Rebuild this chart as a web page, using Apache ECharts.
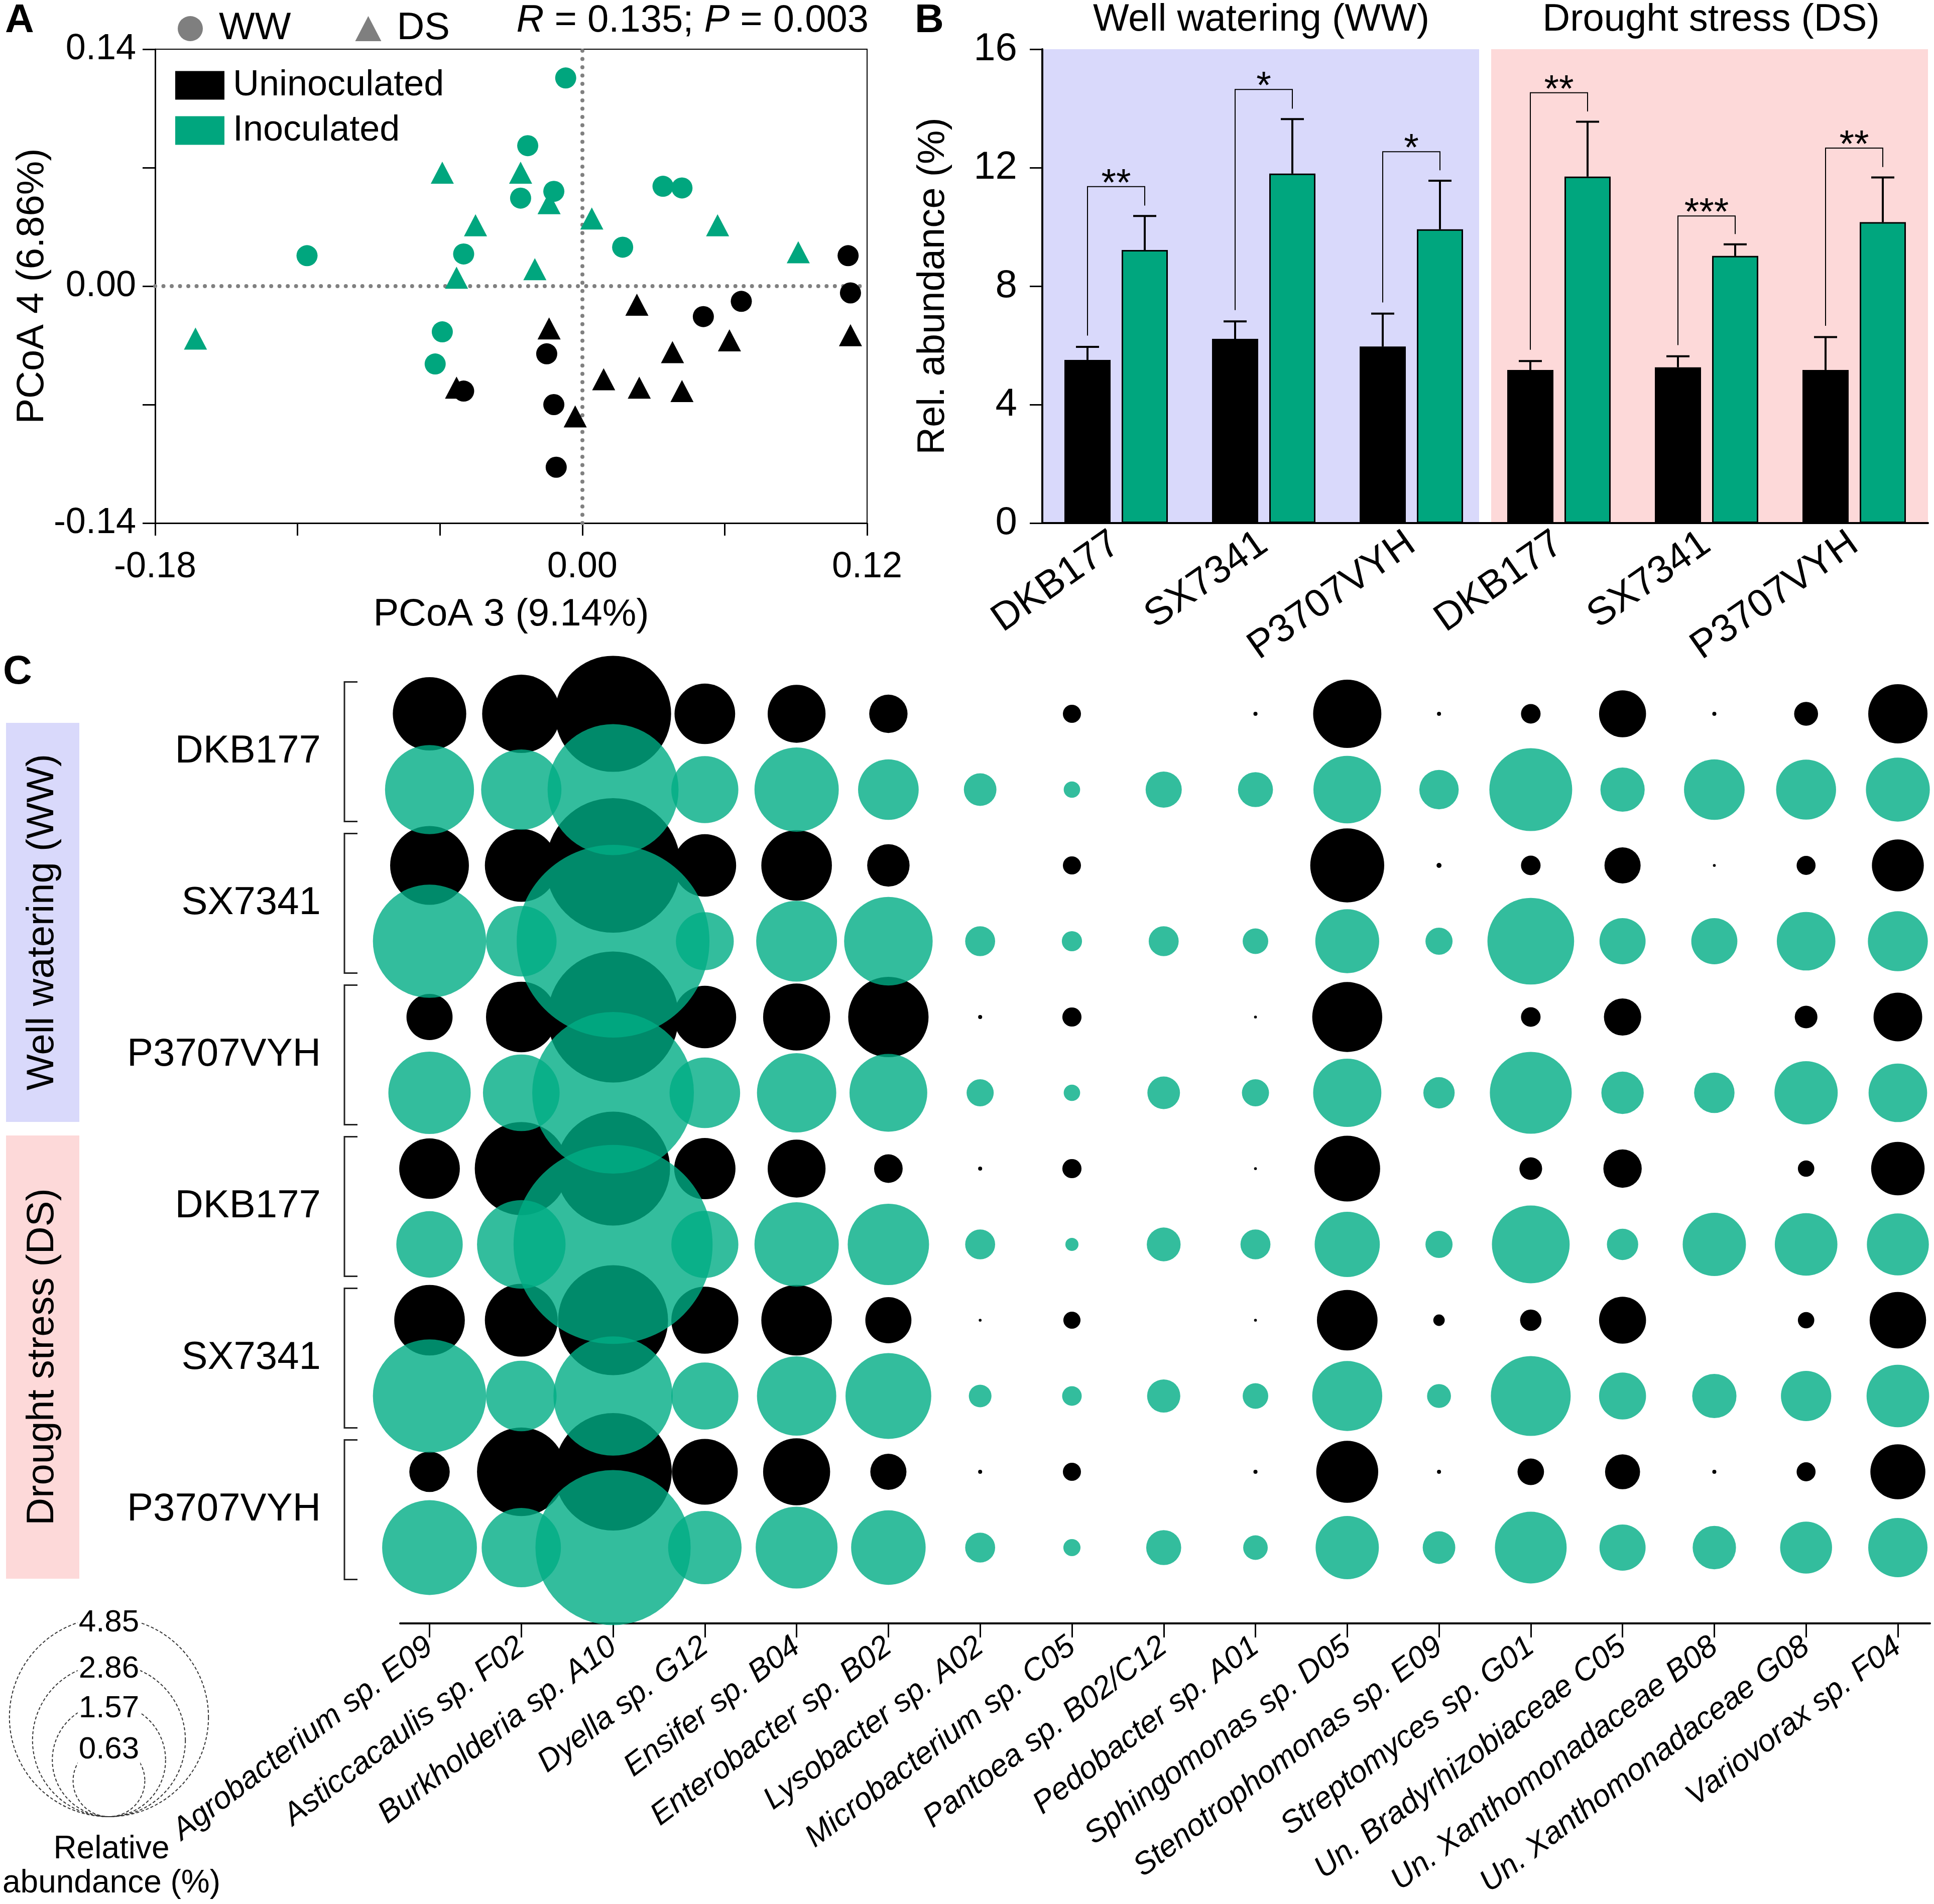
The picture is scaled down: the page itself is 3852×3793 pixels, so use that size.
<!DOCTYPE html>
<html>
<head>
<meta charset="utf-8">
<title>PCoA, relative abundance and bubble plot</title>
<script src="https://cdn.jsdelivr.net/npm/echarts@6/dist/echarts.min.js"></script>
<style>
  html, body { margin: 0; padding: 0; background: #fff; }
  #main { width: 3852px; height: 3793px; }
</style>
</head>
<body>
<div id="main"></div>
<script>
// ---------- Panel A: PCoA scores [PCoA 3, PCoA 4] ----------
var uninocWW = [[0.112, 0.018], [0.113, -0.004], [0.067, -0.009], [0.051, -0.018],
  [-0.015, -0.040], [-0.050, -0.062], [-0.012, -0.070], [-0.011, -0.107]];
var uninocDS = [[0.023, -0.011], [-0.014, -0.025], [0.062, -0.032], [0.038, -0.039],
  [0.113, -0.029], [0.009, -0.055], [0.024, -0.060], [0.042, -0.062], [-0.053, -0.060], [-0.003, -0.077]];
var inocWW = [[-0.007, 0.123], [-0.023, 0.083], [-0.026, 0.052], [-0.012, 0.056], [0.034, 0.059],
  [0.042, 0.058], [0.017, 0.023], [-0.116, 0.018], [-0.050, 0.019], [-0.059, -0.027], [-0.062, -0.046]];
var inocDS = [[-0.059, 0.067], [-0.026, 0.067], [-0.014, 0.049], [-0.045, 0.036], [0.004, 0.040],
  [0.057, 0.036], [0.091, 0.020], [-0.020, 0.010], [-0.053, 0.005], [-0.163, -0.031]];
var pcoaLabels = ['-0.18', '0.00', '0.12', '-0.14', '0.14'];

// ---------- Panel B: relative abundance (%) ----------
var cultivarKeys = ['WW-DKB177', 'WW-SX7341', 'WW-P3707VYH', 'DS-DKB177', 'DS-SX7341', 'DS-P3707VYH'];
var uninocMean = [5.51, 6.22, 5.96, 5.17, 5.26, 5.17];
var uninocErr = [0.44, 0.59, 1.11, 0.30, 0.37, 1.11];
var inocMean = [9.22, 11.80, 9.92, 11.70, 9.02, 10.16];
var inocErr = [1.15, 1.84, 1.64, 1.85, 0.39, 1.51];
var sigLevel = [11.36, 14.64, 12.54, 14.53, 10.37, 12.66];
var sigStars = ['**', '*', '*', '**', '***', '**'];
var regimeSpans = [[0, 2], [3, 5]];

// ---------- Panel C: bubble plot, relative abundance (%) ----------
var species = ['Agrobacterium sp. E09', 'Asticcacaulis sp. F02', 'Burkholderia sp. A10', 'Dyella sp. G12',
  'Ensifer sp. B04', 'Enterobacter sp. B02', 'Lysobacter sp. A02', 'Microbacterium sp. C05',
  'Pantoea sp. B02/C12', 'Pedobacter sp. A01', 'Sphingomonas sp. D05', 'Stenotrophomonas sp. E09',
  'Streptomyces sp. G01', 'Un. Bradyrhizobiaceae C05', 'Un. Xanthomonadaceae B08',
  'Un. Xanthomonadaceae G08', 'Variovorax sp. F04'];
var cultivars = ['DKB177', 'SX7341', 'P3707VYH', 'DKB177', 'SX7341', 'P3707VYH'];

var wwDKB177Un = [0.66, 0.75, 1.65, 0.45, 0.41, 0.18, 0, 0.04, 0, 0.002, 0.57, 0.002, 0.047, 0.27, 0.002, 0.07, 0.43];
var wwDKB177In = [0.97, 0.79, 2.10, 0.55, 0.87, 0.45, 0.13, 0.033, 0.16, 0.15, 0.56, 0.19, 0.84, 0.24, 0.45, 0.44, 0.50];
var wwSX7341Un = [0.76, 0.65, 2.22, 0.48, 0.61, 0.22, 0, 0.04, 0, 0, 0.67, 0.003, 0.047, 0.16, 0.001, 0.044, 0.33];
var wwSX7341In = [1.57, 0.61, 4.55, 0.41, 0.80, 0.96, 0.11, 0.05, 0.11, 0.08, 0.50, 0.09, 0.92, 0.26, 0.26, 0.42, 0.44];
var wwP3707Un = [0.26, 0.61, 2.10, 0.48, 0.55, 0.79, 0.002, 0.045, 0, 0.001, 0.60, 0, 0.047, 0.17, 0, 0.063, 0.29];
var wwP3707In = [0.83, 0.72, 3.20, 0.61, 0.77, 0.74, 0.09, 0.033, 0.13, 0.09, 0.57, 0.12, 0.82, 0.22, 0.20, 0.49, 0.42];
var dsDKB177Un = [0.45, 1.06, 1.59, 0.46, 0.41, 0.10, 0.002, 0.045, 0, 0.001, 0.53, 0, 0.063, 0.18, 0, 0.033, 0.35];
var dsDKB177In = [0.54, 0.96, 4.85, 0.55, 0.87, 0.81, 0.11, 0.021, 0.14, 0.11, 0.52, 0.09, 0.74, 0.12, 0.49, 0.48, 0.47];
var dsSX7341Un = [0.61, 0.65, 1.48, 0.55, 0.61, 0.26, 0.001, 0.036, 0, 0.001, 0.45, 0.016, 0.056, 0.27, 0, 0.033, 0.39];
var dsSX7341In = [1.57, 0.61, 1.74, 0.55, 0.77, 0.90, 0.063, 0.047, 0.135, 0.08, 0.60, 0.07, 0.78, 0.27, 0.24, 0.31, 0.48];
var dsP3707Un = [0.20, 0.96, 1.69, 0.53, 0.55, 0.16, 0.002, 0.04, 0, 0.002, 0.47, 0.002, 0.086, 0.15, 0.002, 0.044, 0.37];
var dsP3707In = [1.10, 0.77, 2.95, 0.66, 0.82, 0.68, 0.11, 0.036, 0.15, 0.074, 0.49, 0.13, 0.63, 0.26, 0.23, 0.33, 0.43];
var sizeLegend = [4.85, 2.86, 1.57, 0.63];

var uninocRows = [wwDKB177Un, wwSX7341Un, wwP3707Un, dsDKB177Un, dsSX7341Un, dsP3707Un];
var inocRows = [wwDKB177In, wwSX7341In, wwP3707In, dsDKB177In, dsSX7341In, dsP3707In];

// ---------- styling ----------
var FONT = 'Liberation Sans, Arial, sans-serif';
var GREEN = '#00a67e';
var BUBBLE_GREEN = '#00ac85';
var BAR_W = 92, BAR_GAP = 22;
var BAR_OFF = (BAR_W + BAR_GAP) / 2;
var C_XMIN = -0.32;

function sizeOf(v) { return 180 * Math.sqrt(v); }

function bubbleData(rows, offset) {
  var out = [];
  rows.forEach(function (row, g) {
    row.forEach(function (v, j) {
      if (v > 0) out.push([j, 2 * g + offset, v]);
    });
  });
  return out;
}

function pcoaFmt(v) {
  var s = Math.abs(v) < 1e-9 ? '0.00' : v.toFixed(2);
  return pcoaLabels.indexOf(s) >= 0 ? s : '';
}

var myChart = echarts.init(document.getElementById('main'));
window.addEventListener('resize', function () {
  myChart.resize();
});

myChart.setOption({
  animation: false,
  backgroundColor: '#fff',
  textStyle: { fontFamily: FONT, color: '#000' },
  grid: [
    { left: 309, top: 98, width: 1418, height: 944, show: true, borderColor: '#000', borderWidth: 2 },
    { left: 2076, top: 98, width: 1764, height: 944 },
    { left: 797, top: 1271, width: 3047, height: 1963 },
    { left: 0, top: 3150, width: 434, height: 469 }
  ],
  xAxis: [
    {
      gridIndex: 0, type: 'value', min: -0.18, max: 0.12, interval: 0.06,
      name: 'PCoA 3 (9.14%)', nameLocation: 'middle', nameGap: 145,
      nameTextStyle: { fontSize: 76, color: '#000' },
      axisLine: { onZero: false, lineStyle: { color: '#000', width: 3 } },
      axisTick: { length: 25, lineStyle: { color: '#000', width: 3 } },
      axisLabel: { fontSize: 72, color: '#000', margin: 52, formatter: pcoaFmt },
      splitLine: { show: false }
    },
    {
      gridIndex: 1, type: 'category', data: cultivarKeys,
      axisLine: { onZero: false, lineStyle: { color: '#000', width: 4 } },
      axisTick: { show: false },
      axisLabel: {
        fontSize: 78, color: '#000', rotate: 35, margin: 34, interval: 0,
        formatter: function (v) { return v.split('-')[1]; }
      }
    },
    {
      gridIndex: 2, type: 'value', min: C_XMIN, max: 16.35,
      axisLine: { onZero: false, lineStyle: { color: '#000', width: 4 } },
      axisTick: {
        customValues: species.map(function (s, i) { return i; }),
        length: 28, lineStyle: { color: '#000', width: 3 }
      },
      axisLabel: {
        customValues: species.map(function (s, i) { return i; }),
        fontSize: 62, fontStyle: 'italic', color: '#000', rotate: 37, margin: 40,
        formatter: function (v) { return species[Math.round(v)]; }
      },
      splitLine: { show: false }
    },
    { gridIndex: 3, type: 'value', min: 0, max: 1, show: false }
  ],
  yAxis: [
    {
      gridIndex: 0, type: 'value', min: -0.14, max: 0.14, interval: 0.07,
      name: 'PCoA 4 (6.86%)', nameLocation: 'middle', nameGap: 196,
      nameTextStyle: { fontSize: 76, color: '#000' },
      axisLine: { show: true, onZero: false, lineStyle: { color: '#000', width: 3 } },
      axisTick: { show: true, length: 25, lineStyle: { color: '#000', width: 3 } },
      axisLabel: { fontSize: 72, color: '#000', margin: 38, formatter: pcoaFmt },
      splitLine: { show: false }
    },
    {
      gridIndex: 1, type: 'value', min: 0, max: 16, interval: 4,
      name: 'Rel. abundance (%)', nameLocation: 'middle', nameGap: 179,
      nameTextStyle: { fontSize: 76, color: '#000' },
      axisLine: { show: true, onZero: false, lineStyle: { color: '#000', width: 4 } },
      axisTick: { show: true, length: 25, lineStyle: { color: '#000', width: 3 } },
      axisLabel: { fontSize: 78, color: '#000', margin: 50 },
      splitLine: { show: false }
    },
    {
      gridIndex: 2, type: 'value', min: -1, max: 12, inverse: true,
      axisLine: { show: false, onZero: false }, axisTick: { show: false }, splitLine: { show: false },
      axisLabel: {
        customValues: cultivars.map(function (c, g) { return 2 * g + 0.5; }),
        fontSize: 78, color: '#000', margin: 158,
        formatter: function (v) { return cultivars[Math.round((v - 0.5) / 2)]; }
      }
    },
    { gridIndex: 3, type: 'value', min: 0, max: 1, show: false }
  ],
  legend: [
    {
      selectedMode: false, left: 349, top: 14, itemWidth: 52, itemHeight: 50, itemGap: 128,
      data: [{ name: 'WW', icon: 'circle' }, { name: 'DS', icon: 'triangle' }],
      textStyle: { fontSize: 76, color: '#000', lineHeight: 50, padding: [0, 0, 0, 26] }
    },
    {
      selectedMode: false, orient: 'vertical', left: 344, top: 129, itemWidth: 98, itemHeight: 57, itemGap: 18,
      data: [{ name: 'Uninoculated', icon: 'rect' }, { name: 'Inoculated', icon: 'rect' }],
      textStyle: { fontSize: 72, color: '#000', lineHeight: 57, padding: [0, 0, 0, 12] }
    }
  ],
  graphic: [
    { type: 'text', left: 10, top: 2, style: { text: 'A', font: 'bold 80px ' + FONT, fill: '#000' } },
    { type: 'text', left: 1822, top: 2, style: { text: 'B', font: 'bold 80px ' + FONT, fill: '#000' } },
    { type: 'text', left: 6, top: 1300, style: { text: 'C', font: 'bold 80px ' + FONT, fill: '#000' } },
    {
      type: 'text', x: 1730, y: 42,
      style: {
        text: '{i|R} = 0.135; {i|P} = 0.003', font: '76px ' + FONT, fill: '#000',
        align: 'right', verticalAlign: 'middle',
        rich: { i: { fontStyle: 'italic', fontSize: 76, fontFamily: FONT } }
      }
    },
    { type: 'text', x: 2512, y: 40, style: { text: 'Well watering (WW)', font: '76px ' + FONT, fill: '#000', align: 'center', verticalAlign: 'middle' } },
    { type: 'text', x: 3408, y: 40, style: { text: 'Drought stress (DS)', font: '76px ' + FONT, fill: '#000', align: 'center', verticalAlign: 'middle' } },
    { type: 'rect', shape: { x: 12, y: 1440, width: 146, height: 795 }, style: { fill: '#d9d9fb' } },
    { type: 'text', x: 85, y: 1837, rotation: Math.PI / 2, style: { text: 'Well watering (WW)', font: '76px ' + FONT, fill: '#000', align: 'center', verticalAlign: 'middle' } },
    { type: 'rect', shape: { x: 12, y: 2262, width: 146, height: 883 }, style: { fill: '#fdd9d9' } },
    { type: 'text', x: 85, y: 2703, rotation: Math.PI / 2, style: { text: 'Drought stress (DS)', font: '76px ' + FONT, fill: '#000', align: 'center', verticalAlign: 'middle' } },
    { type: 'text', x: 222, y: 3718, style: { text: 'Relative\nabundance (%)', font: '64px ' + FONT, lineHeight: 68, fill: '#000', align: 'center', verticalAlign: 'middle' } }
  ],
  series: [
    // ----- Panel A -----
    {
      name: 'Uninoculated WW', type: 'scatter', xAxisIndex: 0, yAxisIndex: 0, z: 3,
      data: uninocWW, symbol: 'circle', symbolSize: 42, itemStyle: { color: '#000', opacity: 1 },
      markLine: {
        silent: true, symbol: 'none', label: { show: false }, z: 1,
        lineStyle: { color: '#808080', width: 8, type: [0.01, 16.5], cap: 'round', opacity: 1 },
        data: [{ xAxis: 0 }, { yAxis: 0 }]
      }
    },
    { name: 'Uninoculated DS', type: 'scatter', xAxisIndex: 0, yAxisIndex: 0, z: 3, data: uninocDS, symbol: 'triangle', symbolSize: [46, 44], itemStyle: { color: '#000', opacity: 1 } },
    { name: 'Inoculated WW', type: 'scatter', xAxisIndex: 0, yAxisIndex: 0, z: 3, data: inocWW, symbol: 'circle', symbolSize: 42, itemStyle: { color: GREEN, opacity: 1 } },
    { name: 'Inoculated DS', type: 'scatter', xAxisIndex: 0, yAxisIndex: 0, z: 3, data: inocDS, symbol: 'triangle', symbolSize: [46, 44], itemStyle: { color: GREEN, opacity: 1 } },
    { name: 'WW', type: 'scatter', xAxisIndex: 0, yAxisIndex: 0, data: [], itemStyle: { color: '#7f7f7f', opacity: 1 } },
    { name: 'DS', type: 'scatter', xAxisIndex: 0, yAxisIndex: 0, data: [], itemStyle: { color: '#7f7f7f', opacity: 1 } },
    { name: 'Uninoculated', type: 'scatter', xAxisIndex: 0, yAxisIndex: 0, data: [], itemStyle: { color: '#000', opacity: 1 } },
    { name: 'Inoculated', type: 'scatter', xAxisIndex: 0, yAxisIndex: 0, data: [], itemStyle: { color: GREEN, opacity: 1 } },

    // ----- Panel B -----
    {
      type: 'custom', xAxisIndex: 1, yAxisIndex: 1, z: -1, silent: true,
      data: regimeSpans, encode: { x: [0, 1] },
      renderItem: function (params, api) {
        var band = api.size([1, 0])[0];
        var x0 = api.coord([api.value(0), 0])[0] - band / 2;
        var x1 = api.coord([api.value(1), 0])[0] + band / 2;
        if (params.dataIndex === 0) x1 -= 12; else x0 += 12;
        var yT = api.coord([api.value(0), 16])[1];
        var yB = api.coord([api.value(0), 0])[1];
        return {
          type: 'rect', shape: { x: x0, y: yT, width: x1 - x0, height: yB - yT },
          style: { fill: params.dataIndex === 0 ? '#d9d9fb' : '#fdd9d9' }
        };
      }
    },
    {
      name: 'Uninoculated bar', type: 'bar', xAxisIndex: 1, yAxisIndex: 1,
      data: uninocMean, barWidth: BAR_W, barGap: (BAR_GAP / BAR_W * 100) + '%',
      itemStyle: { color: '#000' }
    },
    {
      name: 'Inoculated bar', type: 'bar', xAxisIndex: 1, yAxisIndex: 1,
      data: inocMean, barWidth: BAR_W,
      itemStyle: { color: GREEN, borderColor: '#000', borderWidth: 3 }
    },
    {
      type: 'custom', xAxisIndex: 1, yAxisIndex: 1, z: 3, silent: true,
      data: cultivarKeys.map(function (k, i) {
        return [i, uninocMean[i], uninocErr[i], inocMean[i], inocErr[i]];
      }),
      encode: { x: 0, y: [1, 3] },
      renderItem: function (params, api) {
        var i = api.value(0);
        var kids = [];
        [[-1, api.value(1), api.value(2)], [1, api.value(3), api.value(4)]].forEach(function (b) {
          var p0 = api.coord([i, b[1]]);
          var p1 = api.coord([i, b[1] + b[2]]);
          var x = p0[0] + b[0] * BAR_OFF;
          kids.push({ type: 'line', shape: { x1: x, y1: p0[1], x2: x, y2: p1[1] }, style: { stroke: '#000', lineWidth: 4 } });
          kids.push({ type: 'line', shape: { x1: x - 23, y1: p1[1], x2: x + 23, y2: p1[1] }, style: { stroke: '#000', lineWidth: 4 } });
        });
        return { type: 'group', children: kids };
      }
    },
    {
      type: 'custom', xAxisIndex: 1, yAxisIndex: 1, z: 3, silent: true,
      data: cultivarKeys.map(function (k, i) {
        return [i, uninocMean[i] + uninocErr[i] + 0.38, sigLevel[i], inocMean[i] + inocErr[i] + 0.35];
      }),
      encode: { x: 0, y: [1, 2, 3] },
      renderItem: function (params, api) {
        var i = api.value(0);
        var c = api.coord([i, 0])[0];
        var xl = c - BAR_OFF, xr = c + BAR_OFF;
        var yl = api.coord([i, api.value(1)])[1];
        var yt = api.coord([i, api.value(2)])[1];
        var yr = api.coord([i, api.value(3)])[1];
        return {
          type: 'group', children: [
            { type: 'polyline', shape: { points: [[xl, yl], [xl, yt], [xr, yt], [xr, yr]] }, style: { stroke: '#000', lineWidth: 2, fill: null } },
            { type: 'text', x: c, y: yt + 34, style: { text: sigStars[params.dataIndex], font: '76px ' + FONT, fill: '#000', align: 'center', verticalAlign: 'bottom' } }
          ]
        };
      }
    },

    // ----- Panel C -----
    {
      type: 'custom', xAxisIndex: 2, yAxisIndex: 2, clip: false, silent: true,
      data: cultivars.map(function (c, g) { return [C_XMIN, 2 * g + 0.5]; }),
      encode: { x: 0, y: 1 },
      renderItem: function (params, api) {
        var cy = api.value(1);
        var xL = api.coord([api.value(0), cy])[0] - 111;
        var top = api.coord([api.value(0), cy - 0.92])[1];
        var bot = api.coord([api.value(0), cy + 0.92])[1];
        return {
          type: 'polyline', shape: { points: [[xL + 26, top], [xL, top], [xL, bot], [xL + 26, bot]] },
          style: { stroke: '#222', lineWidth: 3, fill: null }
        };
      }
    },
    {
      name: 'Uninoculated bubbles', type: 'scatter', xAxisIndex: 2, yAxisIndex: 2, z: 2,
      data: bubbleData(uninocRows, 0),
      symbolSize: function (d) { return sizeOf(d[2]); },
      itemStyle: { color: '#000', opacity: 1 }
    },
    {
      name: 'Inoculated bubbles', type: 'scatter', xAxisIndex: 2, yAxisIndex: 2, z: 3,
      data: bubbleData(inocRows, 1),
      symbolSize: function (d) { return sizeOf(d[2]); },
      itemStyle: { color: BUBBLE_GREEN, opacity: 0.8 }
    },
    {
      name: 'Size legend', type: 'scatter', xAxisIndex: 3, yAxisIndex: 3, z: 4, silent: true,
      data: sizeLegend.map(function (v) {
        return { value: [0.5, 0, v], symbolOffset: [0, -sizeOf(v) / 2] };
      }),
      symbolSize: function (d) { return sizeOf(d[2]); },
      itemStyle: { color: 'rgba(0,0,0,0)', borderColor: '#333', borderWidth: 2, borderType: [6, 4], opacity: 1 },
      label: {
        show: true, position: 'top', distance: -42, fontSize: 62, color: '#000',
        backgroundColor: '#fff', padding: [0, 2],
        formatter: function (p) { return p.value[2].toFixed(2); }
      }
    }
  ]
});
</script>
</body>
</html>
